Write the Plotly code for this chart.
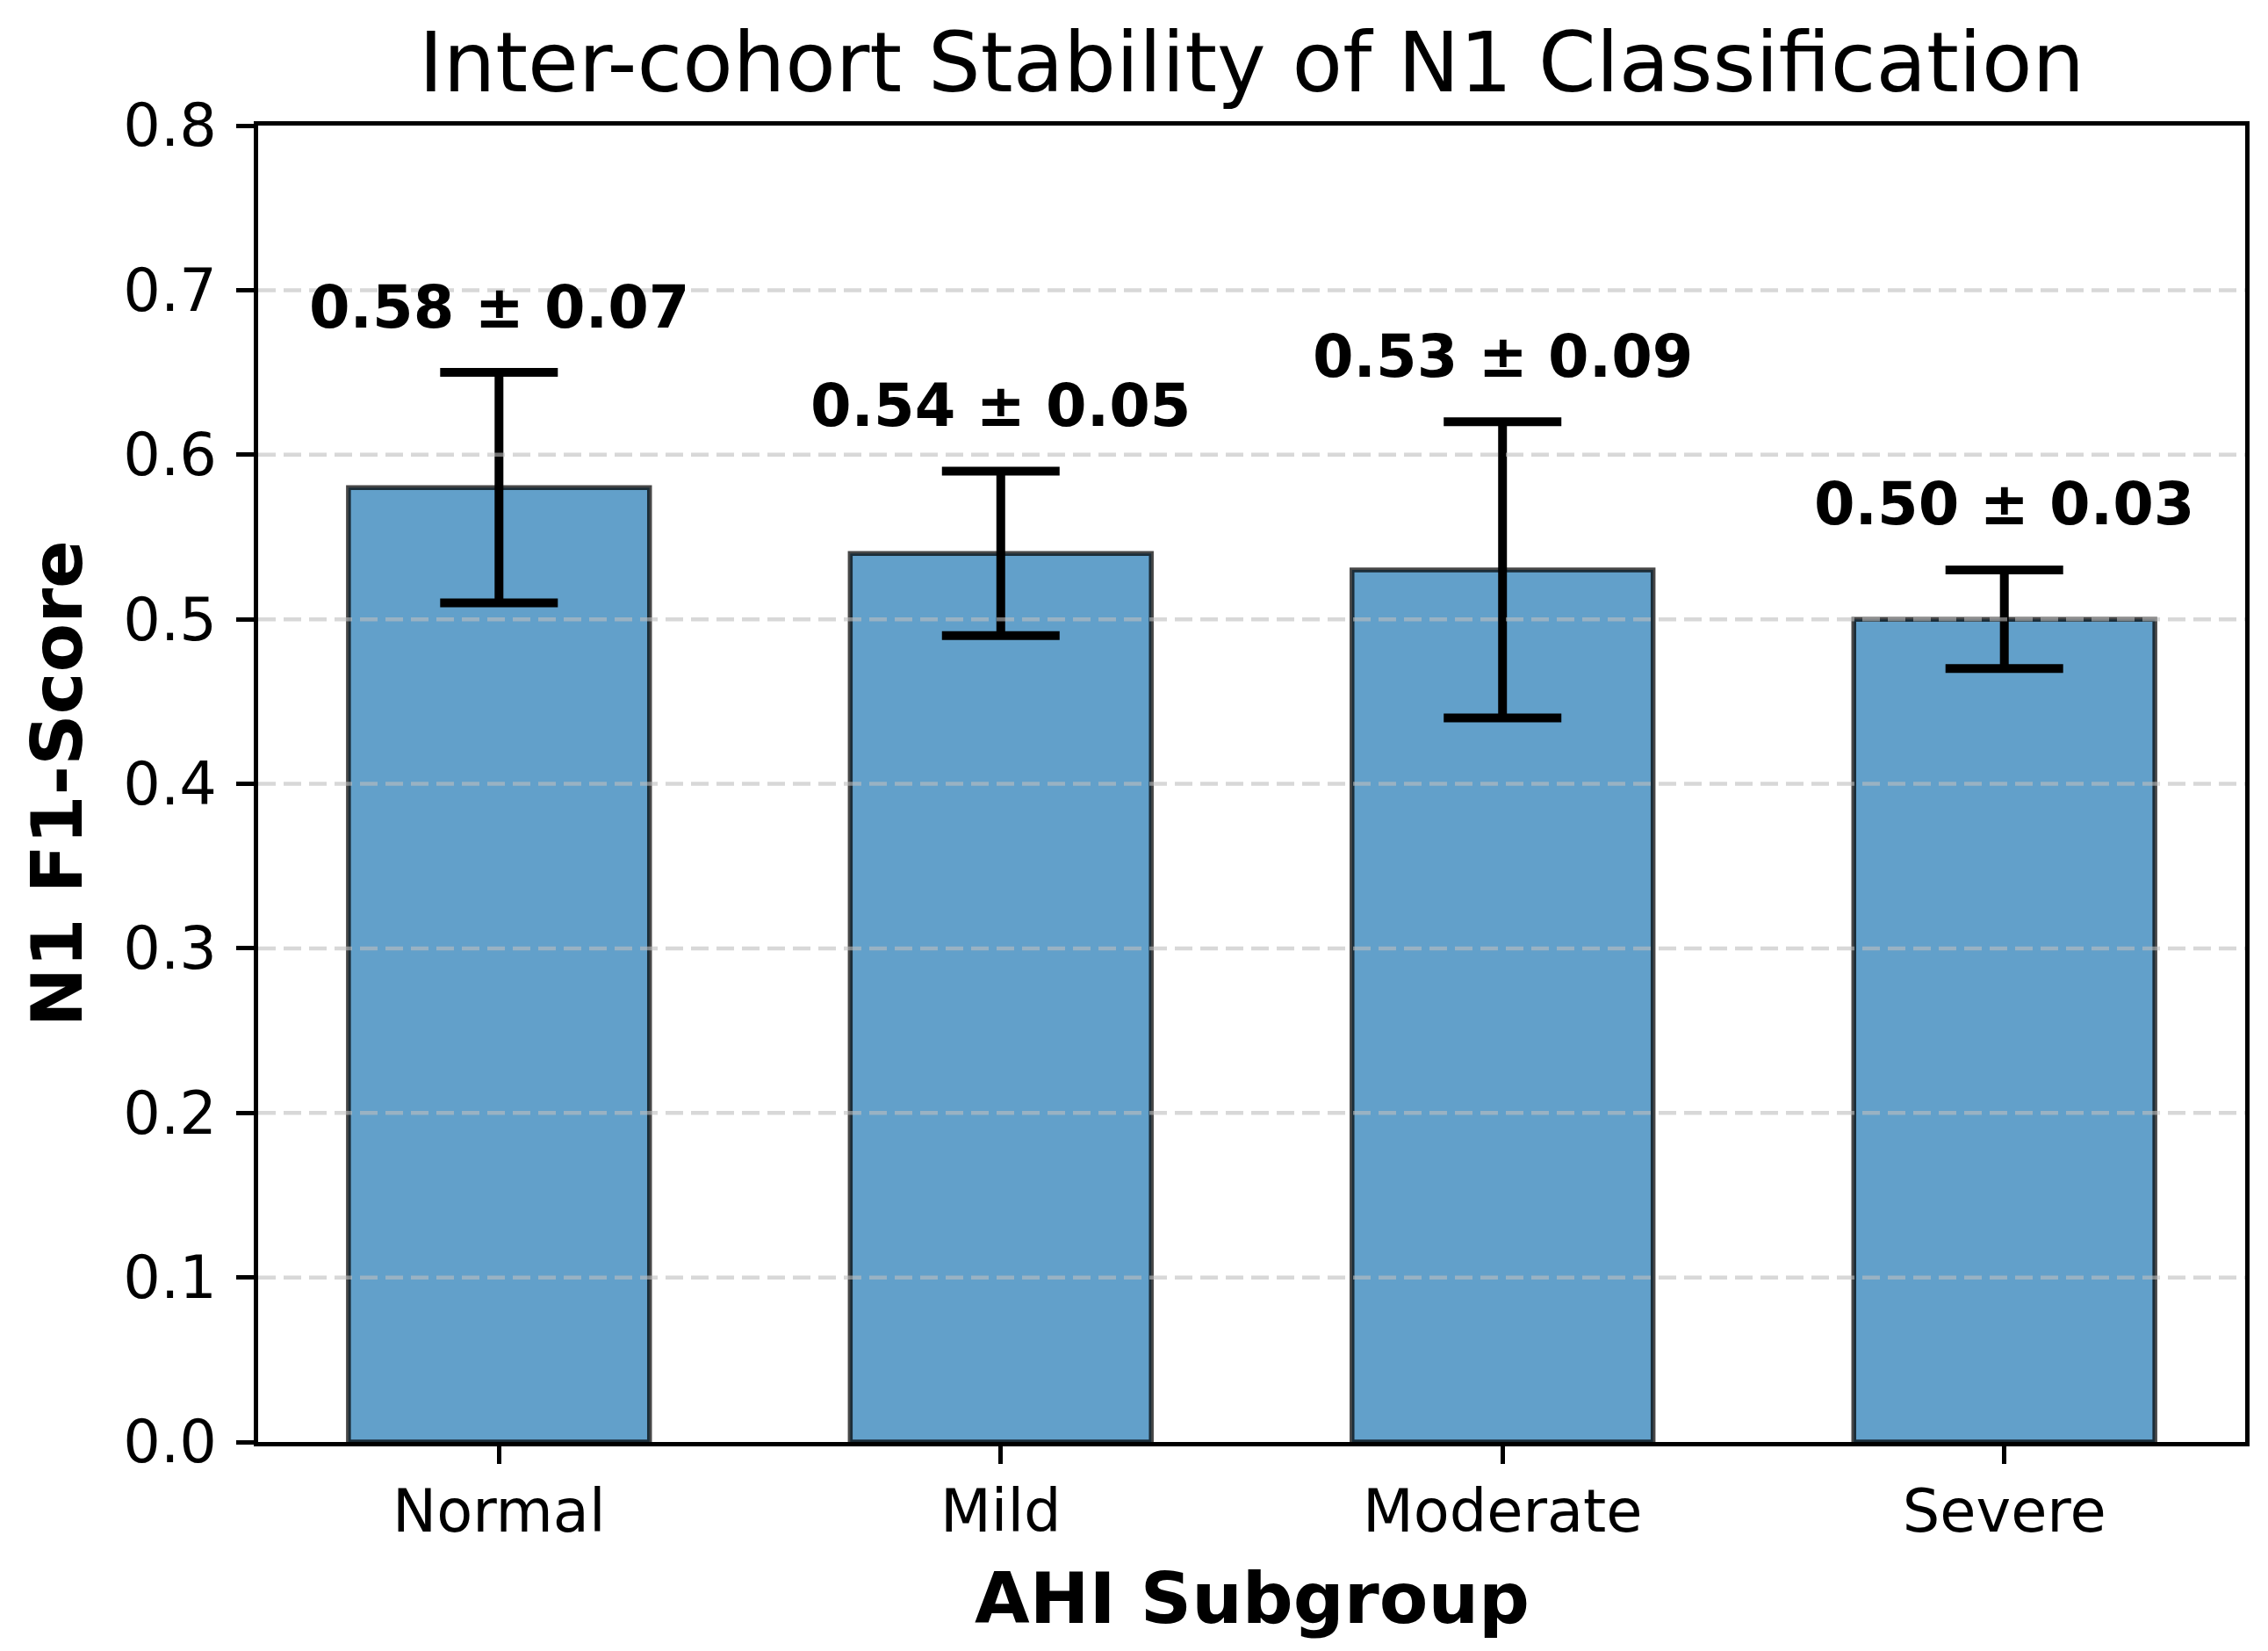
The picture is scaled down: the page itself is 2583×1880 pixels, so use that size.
import plotly.graph_objects as go

categories = ["Normal", "Mild", "Moderate", "Severe"]
means = [0.58, 0.54, 0.53, 0.50]
stds = [0.07, 0.05, 0.09, 0.03]
y_ticks = [0.0, 0.1, 0.2, 0.3, 0.4, 0.5, 0.6, 0.7, 0.8]
labels = [f"{m:.2f} ± {s:.2f}" for m, s in zip(means, stds)]

# page body has an 8px margin, so the figure is offset by 8px in the window
OFF = 8
W, H = 2583 - 2 * OFF, 1880 - 2 * OFF
L, T = 294 - OFF, 143 - OFF
R = W - (2557 - OFF)
B = H - (1642 - OFF)
FONT = "DejaVu Sans"
x_range = [-0.48, 3.48]
PH = H - T - B
PW = W - L - R

fig = go.Figure()

# bars
fig.add_trace(go.Bar(
    x=categories, y=means, width=0.6,
    marker=dict(color="#62a0ca", line=dict(color="rgba(0,0,0,0.72)", width=5.5)),
    showlegend=False, hoverinfo="skip",
))

# grid lines (drawn above bars, below error bars)
for t in y_ticks[1:-1]:
    fig.add_trace(go.Scatter(
        x=[x_range[0], x_range[1]], y=[t, t], mode="lines",
        line=dict(color="rgba(190,190,190,0.6)", width=4.5, dash="20px,9px"),
        showlegend=False, hoverinfo="skip", xaxis="x2",
    ))

# error bars
fig.add_trace(go.Scatter(
    x=categories, y=means, mode="markers",
    marker=dict(size=1, color="rgba(0,0,0,0)"),
    error_y=dict(type="data", array=stds, visible=True, color="black", thickness=10, width=67),
    showlegend=False, hoverinfo="skip",
))

# value labels
for c, m, s, txt in zip(categories, means, stds, labels):
    fig.add_annotation(
        x=c, y=m + s + 0.02, text=f"<b>{txt}</b>", showarrow=False,
        xanchor="center", yanchor="bottom", yshift=-4,
        font=dict(family=FONT, size=67, color="black"),
    )

# axis titles
fig.add_annotation(
    xref="paper", yref="paper", x=0.5, y=-(1820 - 1642) / PH,
    text="<b>AHI Subgroup</b>", showarrow=False, xanchor="center", yanchor="middle",
    font=dict(family=FONT, size=81, color="black"),
)
fig.add_annotation(
    xref="paper", yref="paper", x=(64 - 294) / PW, y=0.5,
    text="<b>N1 F1-Score</b>", showarrow=False, xanchor="center", yanchor="middle",
    textangle=-90, font=dict(family=FONT, size=81, color="black"),
)

fig.update_layout(
    width=W, height=H,
    margin=dict(l=L, r=R, t=T, b=B, autoexpand=False),
    paper_bgcolor="white", plot_bgcolor="white",
    font=dict(family=FONT, color="black"),
    title=dict(
        text="Inter-cohort Stability of N1 Classification",
        x=(L + PW / 2) / W, xanchor="center",
        y=1 - (71 - OFF) / H, yanchor="middle",
        font=dict(family=FONT, size=94, color="black"),
    ),
    xaxis=dict(
        type="category", categoryorder="array", categoryarray=categories,
        range=x_range, showgrid=False, zeroline=False,
        showline=True, linecolor="black", linewidth=4.5, mirror=True,
        ticks="outside", ticklen=20, tickwidth=4.5, tickcolor="black",
        ticklabelstandoff=-3,
        tickfont=dict(family=FONT, size=67, color="black"),
    ),
    xaxis2=dict(
        overlaying="x", range=x_range, visible=False,
    ),
    yaxis=dict(
        range=[0, 0.8], tickvals=y_ticks, tickformat=".1f",
        showgrid=False, zeroline=False,
        showline=True, linecolor="black", linewidth=4.5, mirror=True,
        ticks="outside", ticklen=20, tickwidth=4.5, tickcolor="black",
        ticklabelstandoff=9,
        tickfont=dict(family=FONT, size=67, color="black"),
    ),
)

fig.write_html("out.html")
